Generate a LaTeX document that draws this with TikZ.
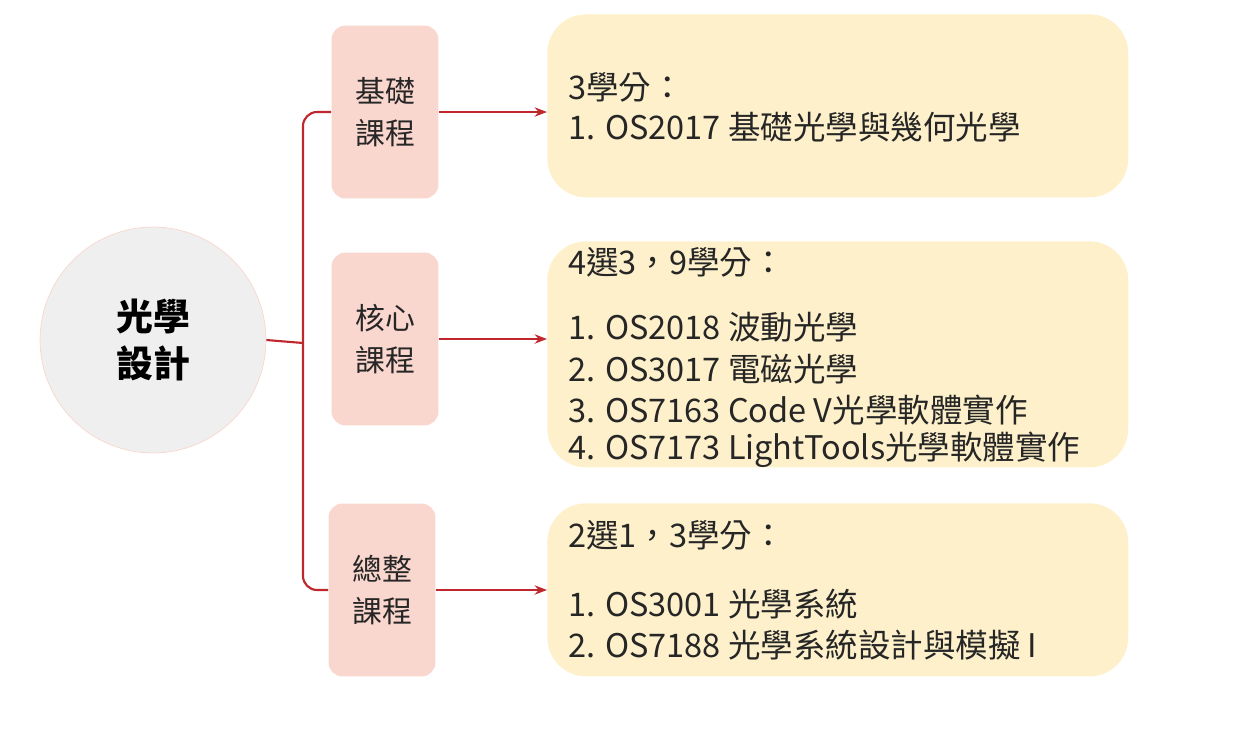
\documentclass[tikz,border=0pt]{standalone}
\usepackage{fontspec}
\setmainfont{Noto Sans CJK TC}
\usetikzlibrary{arrows.meta}
\definecolor{pinkbox}{HTML}{F9D7CE}
\definecolor{yellowbox}{HTML}{FDF0CA}
\definecolor{linered}{HTML}{C0272D}
\definecolor{circgray}{HTML}{EFEFEF}
\tikzset{
  cat/.style={rectangle,rounded corners=8pt,fill=pinkbox,minimum width=2.14cm,minimum height=3.46cm,align=center,font=\fontsize{17}{24}\selectfont,text=black!85},
  info/.style={rectangle,rounded corners=22pt,fill=yellowbox,minimum width=11.62cm,anchor=north west},
  txt/.style={anchor=west,font=\fontsize{18.5}{23}\selectfont,text=black!85,inner sep=0pt},
  link/.style={draw=linered,line width=1.2pt},
}
\begin{document}
\begin{tikzpicture}[x=0.02cm,y=-0.02cm]
\useasboundingbox (0,0) rectangle (1237,744);
\path (153,340) node[circle,minimum size=4.52cm,fill=circgray,draw=pinkbox,align=center,font=\fontsize{21}{27}\selectfont\bfseries] (main) {光學\\設計};

\path (385,112) node[cat] (c1) {基礎\\課程};
\path (385,339) node[cat] (c2) {核心\\課程};
\path (382,590) node[cat] (c3) {總整\\課程};

\path (547,14) node[info,minimum height=3.66cm] (i1) {};
\path (547,241) node[info,minimum height=4.52cm] (i2) {};
\path (547,503) node[info,minimum height=3.46cm] (i3) {};

% bracket
\draw[link] (main.east) -- (303,343);
\draw[link,rounded corners=8pt] (c1.west |- 0,112) -- (303,112) -- (303,590) -- (c3.west |- 0,590);
\draw[link,-{Stealth[length=7pt]}] (c1.east) -- (i1.west |- c1.east);
\draw[link,-{Stealth[length=7pt]}] (c2.east) -- (i2.west |- c2.east);
\draw[link,-{Stealth[length=7pt]}] (c3.east) -- (i3.west |- c3.east);

\node[txt] (t1a) at (568,87) {3學分：};
\node[txt] (t1b) at (568,127) {1. OS2017 基礎光學與幾何光學};

\node[txt] (t2a) at (568,262) {4選3，9學分：};
\node[txt] (t2b) at (568,327) {1. OS2018 波動光學};
\node[txt] (t2c) at (568,369) {2. OS3017 電磁光學};
\node[txt] (t2d) at (568,410) {3. OS7163 Code V光學軟體實作};
\node[txt] (t2e) at (568,450) {4. OS7173 LightTools光學軟體實作};

\node[txt] (t3a) at (568,535) {2選1，3學分：};
\node[txt] (t3b) at (568,604) {1. OS3001 光學系統};
\node[txt] (t3c) at (568,645) {2. OS7188 光學系統設計與模擬 I};
\end{tikzpicture}
\end{document}
